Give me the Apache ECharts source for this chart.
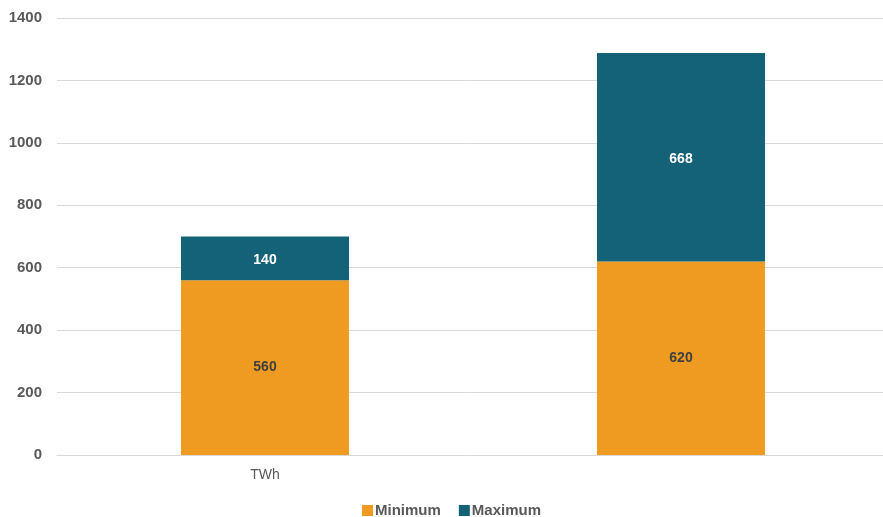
<!DOCTYPE html>
<html>
<head>
<meta charset="utf-8">
<script src="https://cdn.jsdelivr.net/npm/echarts@6/dist/echarts.min.js"></script>
<style>
  html, body { margin: 0; padding: 0; background: #fff; }
  #chart { width: 883px; height: 517px; }
</style>
</head>
<body>
<div id="chart"></div>
<script>
// Energy range per category, stacked: minimum plus the extra up to the maximum
const categories = ['TWh', ''];
const minimumValues = [560, 620];
const maximumValues = [140, 668];
const yTicks = { min: 0, max: 1400, interval: 200 };

const chart = echarts.init(document.getElementById('chart'));
const font = 'Liberation Sans, Arial, sans-serif';

chart.setOption({
  animation: false,
  grid: { left: 57, width: 832, top: 18, bottom: 62, containLabel: false, outerBoundsMode: 'none' },
  legend: {
    bottom: -6,
    left: 357,
    itemWidth: 11,
    itemHeight: 11,
    itemGap: 18,
    icon: 'rect',
    textStyle: { fontFamily: font, fontSize: 15, fontWeight: 'bold', color: '#595959', padding: [0, 0, 0, -3] },
    data: ['Minimum', 'Maximum']
  },
  xAxis: {
    type: 'category',
    data: categories,
    axisLine: { show: true, lineStyle: { color: '#d9d9d9', width: 1 } },
    axisTick: { show: false },
    axisLabel: { fontFamily: font, fontSize: 14, color: '#595959', margin: 13 }
  },
  yAxis: {
    type: 'value',
    min: yTicks.min,
    max: yTicks.max,
    interval: yTicks.interval,
    axisLine: { show: false },
    axisTick: { show: false },
    splitLine: { lineStyle: { color: '#d9d9d9', width: 1 } },
    axisLabel: {
      fontFamily: font, fontSize: 15, fontWeight: 'bold', color: '#595959', margin: 15,
      formatter: (v) => String(v)
    }
  },
  series: [
    {
      name: 'Minimum',
      type: 'bar',
      stack: 'range',
      barWidth: 168,
      data: minimumValues,
      itemStyle: { color: '#EF9B21' },
      label: { show: true, position: 'inside', fontFamily: font, fontSize: 14, fontWeight: 'bold', color: '#404040' }
    },
    {
      name: 'Maximum',
      type: 'bar',
      stack: 'range',
      barWidth: 168,
      data: maximumValues,
      itemStyle: { color: '#136278' },
      label: { show: true, position: 'inside', fontFamily: font, fontSize: 14, fontWeight: 'bold', color: '#ffffff', offset: [0, 2] }
    }
  ]
});
</script>
</body>
</html>
